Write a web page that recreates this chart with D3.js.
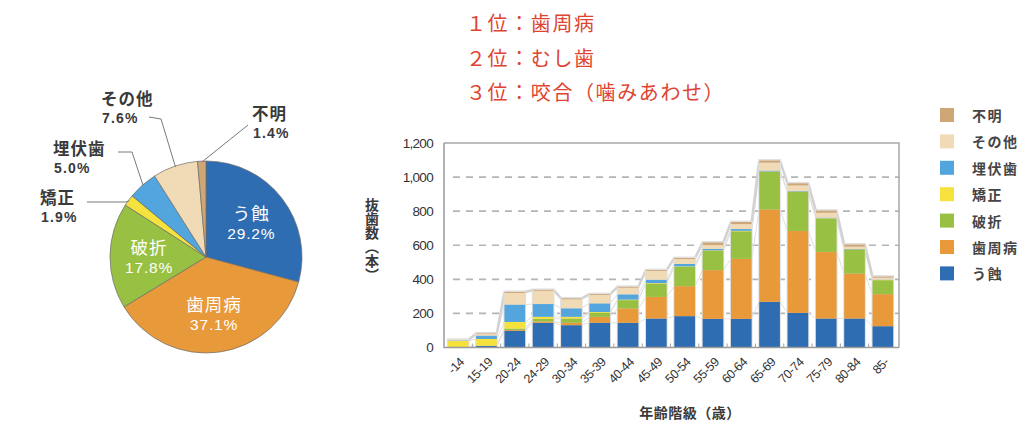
<!DOCTYPE html>
<html><head><meta charset="utf-8">
<script src="https://cdn.jsdelivr.net/npm/d3@7"></script>
<style>
html,body{margin:0;padding:0;background:#fff;}
svg{display:block;font-family:"Noto Sans CJK JP","Noto Sans",sans-serif;}
</style></head>
<body><svg id="c" width="1024" height="431"></svg>
<script>
// ---------- data ----------
const seriesNames = ["う蝕","歯周病","破折","矯正","埋伏歯","その他","不明"];
const seriesColors = ["#2f6db3","#e8993a","#98c143","#f6e23c","#52a5dd","#f1dab6","#cfa676"];
const pieValues = [29.2, 37.1, 17.8, 1.9, 5.0, 7.6, 1.4];
const categories = ["-14","15-19","20-24","24-29","30-34","35-39","40-44","45-49","50-54","55-59","60-64","65-69","70-74","75-79","80-84","85-"];
const caries      = [0, 10, 98, 145, 131, 145, 145, 170, 184, 168, 168, 268, 203, 170, 170, 125];
const periodontal = [0, 0, 5, 8, 14, 35, 84, 127, 176, 286, 352, 542, 481, 391, 264, 188];
const fracture    = [0, 0, 8, 15, 25, 23, 49, 78, 113, 113, 162, 221, 229, 196, 141, 82];
const orthodontic = [38, 40, 39, 12, 10, 5, 3, 3, 3, 3, 3, 2, 2, 2, 1, 1];
const impacted    = [3, 20, 102, 75, 50, 51, 31, 20, 14, 8, 10, 5, 3, 3, 2, 2];
const other       = [4, 10, 68, 78, 53, 49, 39, 51, 29, 23, 29, 47, 33, 29, 14, 12];
const unknown     = [0, 3, 6, 5, 5, 5, 5, 5, 6, 15, 12, 12, 12, 12, 12, 6];
const yTicks = [0, 200, 400, 600, 800, 1000, 1200];
const rankLines = ["１位：歯周病","２位：むし歯","３位：咬合（噛みあわせ）"];

const seriesValues = [caries, periodontal, fracture, orthodontic, impacted, other, unknown];
const svg = d3.select("#c");

// ---------- pie ----------
const cx = 206, cy = 257, R = 96;
const pieData = seriesNames.map((n,i)=>({name:n, value:pieValues[i], color:seriesColors[i]}));
const pie = d3.pie().value(d=>d.value).sort(null);
const arcs = pie(pieData);
const arc = d3.arc().innerRadius(0).outerRadius(R);
const gp = svg.append("g").attr("transform",`translate(${cx},${cy})`);
gp.selectAll("path").data(arcs).join("path")
  .attr("d",arc).attr("fill",d=>d.data.color)
  .attr("stroke","#6b6b6b").attr("stroke-width",0.7);

const inner = d3.arc().innerRadius(57).outerRadius(57);
arcs.slice(0,3).forEach(a=>{
  const [px,py] = inner.centroid(a);
  const t = gp.append("g").attr("transform",`translate(${px},${py})`);
  t.append("text").attr("text-anchor","middle").attr("y",-10).attr("dominant-baseline","central")
    .attr("fill","#fff").attr("font-size",17.5).attr("letter-spacing",1).text(a.data.name);
  t.append("text").attr("text-anchor","middle").attr("y",11).attr("dominant-baseline","central")
    .attr("fill","#fff").attr("font-size",15.5).attr("letter-spacing",0.8)
    .attr("font-family","'Liberation Sans',Arial,sans-serif").text(a.data.value.toFixed(1)+"%");
});

const outer = [
  {i:3, x:40,  y:197, pts:[[87,202]]},
  {i:4, x:53,  y:148, pts:[[132,152],[118,152]]},
  {i:5, x:101, y:98,  pts:[[161,119],[149,117]]},
  {i:6, x:252, y:113, pts:[[248,125]]}
];
outer.forEach(o=>{
  const a = arcs[o.i];
  const mid = (a.startAngle+a.endAngle)/2;
  const ex = cx + Math.sin(mid)*(R-1), ey = cy - Math.cos(mid)*(R-1);
  let pts = [[ex,ey]].concat(o.pts);
  if(o.i===3) pts = [[ex,ey],[ex-4,202]].concat(o.pts);
  svg.append("path").attr("d",d3.line()(pts)).attr("fill","none").attr("stroke","#7a7a7a").attr("stroke-width",1);
  svg.append("text").attr("x",o.x).attr("y",o.y).attr("dominant-baseline","central")
    .attr("font-size",16.5).attr("font-weight","bold").attr("fill","#3a3a3a").attr("letter-spacing",1)
    .text(a.data.name);
  svg.append("text").attr("x",o.x+1).attr("y",o.y+20).attr("dominant-baseline","central")
    .attr("font-size",14).attr("font-weight","bold").attr("fill","#3a3a3a").attr("letter-spacing",1.2)
    .attr("font-family","'Liberation Sans',Arial,sans-serif")
    .text(a.data.value.toFixed(1)+"%");
});

// ---------- red ranking text ----------
rankLines.forEach((t,i)=>{
  svg.append("text").attr("x",466).attr("y",22.5+i*34.5).attr("dominant-baseline","central")
    .attr("font-size",20).attr("fill","#de4431").attr("letter-spacing",1.6).text(t);
});

// ---------- stacked bars ----------
const pLeft = 444, pRight = 899, pTop = 143, pBottom = 347.5;
const x = d3.scaleBand().domain(categories).range([445,896]).paddingInner(0.27).paddingOuter(0.1);
const y = d3.scaleLinear().domain([0,1200]).range([pBottom, pTop]);

const rows = categories.map((c,j)=>{
  const r = {cat:c};
  seriesNames.forEach((n,i)=>r[n]=seriesValues[i][j]);
  return r;
});
const stack = d3.stack().keys(seriesNames)(rows);

svg.append("g").selectAll("line").data(yTicks.filter(v=>v>0&&v<1200)).join("line")
  .attr("x1",pLeft+9).attr("x2",pRight).attr("y1",d=>y(d)).attr("y2",d=>y(d))
  .attr("stroke","#b4b4b4").attr("stroke-width",1.6).attr("stroke-dasharray","7,6");

const bw = x.bandwidth();
const gl = svg.append("g");
stack.forEach((layer,li)=>{
  for(let j=0;j<categories.length-1;j++){
    const isTop = li===stack.length-1;
    gl.append("line")
      .attr("x1",x(categories[j])+bw).attr("y1",y(layer[j][1]))
      .attr("x2",x(categories[j+1])).attr("y2",y(layer[j+1][1]))
      .attr("stroke",isTop?"#d2d2d2":"#e0e0e0").attr("stroke-width",isTop?2.5:1);
  }
});
svg.append("g").selectAll("rect").data(stack[stack.length-1]).join("rect")
  .attr("x",(d,j)=>x(categories[j])-1).attr("y",d=>y(d[1])-1.5)
  .attr("width",bw+2).attr("height",d=>pBottom-y(d[1])+1.5)
  .attr("fill","#e0e0e0");

svg.append("g").selectAll("g").data(stack).join("g")
  .attr("fill",(d,i)=>seriesColors[i])
  .selectAll("rect").data(d=>d).join("rect")
  .attr("x",(d,j)=>x(categories[j])).attr("width",bw)
  .attr("y",d=>y(d[1])).attr("height",d=>Math.max(0,y(d[0])-y(d[1])));

svg.append("path").attr("d",`M${pLeft},${pTop}H${pRight}V${pBottom}`).attr("fill","none")
  .attr("stroke","#a8a8a8").attr("stroke-width",1.5);
svg.append("path").attr("d",`M${pLeft},${pTop}V${pBottom}H${pRight}`).attr("fill","none")
  .attr("stroke","#9a9a9a").attr("stroke-width",1.5);
const step = x.step();
svg.append("g").selectAll("line").data(categories.slice(1)).join("line")
  .attr("x1",d=>x(d)-(step-bw)/2).attr("x2",d=>x(d)-(step-bw)/2)
  .attr("y1",pBottom).attr("y2",pBottom-4).attr("stroke","#a0a0a0").attr("stroke-width",1);

svg.append("g").selectAll("text").data(yTicks).join("text")
  .attr("x",433).attr("y",d=>y(d)).attr("dominant-baseline","central").attr("text-anchor","end")
  .attr("font-family","'Liberation Sans',Arial,sans-serif").attr("font-size",13.5).attr("letter-spacing",-0.7)
  .attr("fill","#333").text(d=>d3.format(",")(d));

svg.append("g").selectAll("text").data(categories).join("text")
  .attr("transform",d=>`translate(${x(d)+bw/2+4},${360}) rotate(-45)`)
  .attr("text-anchor","end").attr("dominant-baseline","central")
  .attr("font-family","'Liberation Sans',Arial,sans-serif").attr("font-size",12.5).attr("letter-spacing",-0.4)
  .attr("fill","#333").text(d=>d);

svg.append("text").attr("x",690).attr("y",412).attr("text-anchor","middle").attr("dominant-baseline","central")
  .attr("font-size",14).attr("font-weight","bold").attr("fill","#3a3a3a").attr("letter-spacing",0.5)
  .text("年齢階級（歳）");
svg.append("text").attr("x",372).attr("y",198).attr("writing-mode","vertical-rl")
  .attr("font-size",14).attr("font-weight","bold").attr("fill","#3a3a3a")
  .text("抜歯数（本）");

const lg = svg.append("g");
const order = seriesNames.map((n,i)=>i).reverse();
order.forEach((si,k)=>{
  const yy = 115 + k*26.4;
  lg.append("rect").attr("x",940).attr("y",yy-7).attr("width",14).attr("height",14).attr("fill",seriesColors[si]);
  lg.append("text").attr("x",972).attr("y",yy).attr("dominant-baseline","central")
    .attr("font-size",14).attr("font-weight","bold").attr("fill","#454545").attr("letter-spacing",1.5)
    .text(seriesNames[si]);
});
</script></body></html>
